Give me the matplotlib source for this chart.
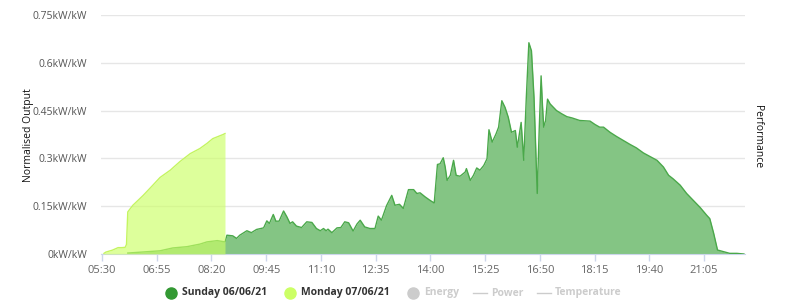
import matplotlib
matplotlib.use("Agg")
from matplotlib import pyplot as plt
from matplotlib.lines import Line2D
import numpy as np

plt.rcParams['font.family'] = ['Open Sans', 'DejaVu Sans']

# Monday 07/06/21 (today, stops at 08:41)
mon_time = ["05:33", "05:36", "05:46", "05:55", "06:01", "06:06", "06:08",
            "06:10", "06:13", "06:18", "06:34", "06:49", "07:00", "07:16",
            "07:31", "07:47", "08:02", "08:13", "08:22", "08:38", "08:41"]
mon_val = [0.002, 0.006, 0.012, 0.02, 0.02, 0.021, 0.03,
           0.132, 0.14, 0.153, 0.184, 0.216, 0.24, 0.263,
           0.29, 0.315, 0.331, 0.347, 0.362, 0.375, 0.378]

# Sunday 06/06/21
sun_time = ["06:10", "06:40", "07:00", "07:20", "07:42", "08:02", "08:13", "08:29",
            "08:41", "08:44", "08:53", "08:59", "09:04", "09:15", "09:22", "09:30",
            "09:41", "09:46", "09:50", "09:56", "10:00", "10:05", "10:12", "10:17",
            "10:22", "10:26", "10:32", "10:40", "10:48", "10:56", "11:03", "11:09",
            "11:14", "11:18", "11:21", "11:27", "11:35", "11:41", "11:47", "11:53",
            "12:00", "12:06", "12:11", "12:18", "12:26", "12:34", "12:39", "12:44",
            "12:52", "13:00", "13:05", "13:12", "13:18", "13:26", "13:34", "13:39",
            "13:44", "13:52", "13:59", "14:06", "14:11", "14:15", "14:20", "14:23",
            "14:26", "14:31", "14:36", "14:40", "14:46", "14:54", "14:56", "15:02",
            "15:07", "15:12", "15:17", "15:23", "15:28", "15:31", "15:36", "15:42",
            "15:46", "15:51", "15:56", "16:01", "16:06", "16:12", "16:15", "16:21",
            "16:25", "16:29", "16:33", "16:37", "16:41", "16:46", "16:49", "16:52",
            "16:54", "16:56", "16:59", "17:02", "17:06", "17:16", "17:24", "17:32",
            "17:40", "17:52", "18:08", "18:16", "18:23", "18:29", "18:39", "18:49",
            "19:00", "19:10", "19:20", "19:31", "19:41", "19:52", "20:02", "20:10",
            "20:17", "20:28", "20:38", "20:48", "20:59", "21:09", "21:14", "21:20",
            "21:26", "21:36", "21:45", "21:56", "22:07"]
sun_val = [0.003, 0.007, 0.01, 0.019, 0.023, 0.031, 0.038, 0.042,
           0.038, 0.059, 0.057, 0.049, 0.059, 0.073, 0.067, 0.077,
           0.082, 0.104, 0.096, 0.124, 0.103, 0.103, 0.135, 0.117,
           0.096, 0.101, 0.0875, 0.083, 0.101, 0.099, 0.080, 0.073,
           0.080, 0.073, 0.078, 0.067, 0.082, 0.083, 0.101, 0.098,
           0.072, 0.094, 0.106, 0.085, 0.080, 0.080, 0.119, 0.106,
           0.152, 0.184, 0.153, 0.156, 0.143, 0.202, 0.202, 0.19,
           0.192, 0.179, 0.169, 0.160, 0.281, 0.283, 0.302, 0.273,
           0.231, 0.247, 0.294, 0.247, 0.244, 0.257, 0.268, 0.231,
           0.247, 0.270, 0.263, 0.278, 0.299, 0.390, 0.351, 0.377,
           0.398, 0.481, 0.46, 0.429, 0.382, 0.3875, 0.335, 0.413,
           0.294, 0.49, 0.663, 0.6375, 0.49, 0.19, 0.3875, 0.559,
           0.471, 0.398, 0.419, 0.486, 0.471, 0.45, 0.44, 0.431,
           0.427, 0.419, 0.417, 0.406, 0.398, 0.398, 0.382, 0.369,
           0.356, 0.344, 0.333, 0.317, 0.306, 0.294, 0.273, 0.247,
           0.236, 0.216, 0.19, 0.169, 0.146, 0.122, 0.111, 0.065,
           0.0125, 0.007, 0.002, 0.002, 0.0]

tick_labels = ["05:30", "06:55", "08:20", "09:45", "11:10", "12:35",
               "14:00", "15:25", "16:50", "18:15", "19:40", "21:05"]
y_ticks = [0, 0.15, 0.3, 0.45, 0.6, 0.75]
y_labels = ["0kW/kW", "0.15kW/kW", "0.3kW/kW", "0.45kW/kW", "0.6kW/kW", "0.75kW/kW"]


def to_min(s):
  h, m = s.split(":")
  return int(h) * 60 + int(m)


sun_x = np.array([to_min(t) for t in sun_time])
mon_x = np.array([to_min(t) for t in mon_time])

fig = plt.figure(figsize=(8, 3.04), dpi=100)
ax = fig.add_axes([101/800, 1-254/304, 644/800, 239/304])

ax.fill_between(sun_x, sun_val, color="#84c584", lw=0, zorder=2)
ax.plot(sun_x, sun_val, color="#4aa84a", lw=1, zorder=3)
ax.fill_between(mon_x, mon_val, color="#ccff66", alpha=0.65, lw=0, zorder=4)
ax.plot(mon_x, mon_val, color="#c4f560", lw=1, zorder=5)

ax.set_xlim(328.4, 1328.7)
ax.set_ylim(0, 0.75)
ax.set_xticks([to_min(t) for t in tick_labels])
ax.set_xticklabels(tick_labels)
ax.set_yticks(y_ticks)
ax.set_yticklabels(y_labels)
ax.tick_params(axis="x", colors="#ccd6eb", labelcolor="#666666", labelsize=8,
               length=5, width=1, pad=3)
ax.tick_params(axis="y", length=0, labelcolor="#555555", labelsize=7.5, pad=10)
ax.grid(axis="y", color="#e6e6e6", lw=1)
ax.set_axisbelow(True)
for s in ["top", "right", "left"]:
  ax.spines[s].set_visible(False)
ax.spines["bottom"].set_color("#ccd6eb")

fig.text(28/800, 1-135/304, "Normalised Output", rotation=90, ha="center",
         va="center", fontsize=7.5, color="#111111")
fig.text(758/800, 1-137/304, "Performance", rotation=-90, ha="center",
         va="center", fontsize=7.5, color="#111111")

# legend: pick a font size so that "Sunday 06/06/21" is ~85px wide like the original
probe = fig.text(0, 0, "Sunday 06/06/21", fontsize=10, fontweight="bold")
fig.canvas.draw()
leg_size = 10 * 85 / probe.get_window_extent().width
probe.remove()

ly = 1 - 293/304
items = [(171, "o", "#339933", "Sunday 06/06/21", "#333333"),
         (290, "o", "#ccff66", "Monday 07/06/21", "#333333"),
         (413, "o", "#cccccc", "Energy", "#cccccc"),
         (480, "-", "#cccccc", "Power", "#cccccc"),
         (544, "-", "#cccccc", "Temperature", "#cccccc")]
for px, mk, col, lab, tcol in items:
  if mk == "o":
    fig.add_artist(Line2D([px/800], [ly], marker="o", ms=8, color=col, lw=0))
  else:
    fig.add_artist(Line2D([(px-7)/800, (px+7)/800], [ly, ly], color=col, lw=1))
  fig.text((px + 11)/800, ly, lab, ha="left", va="center", fontsize=leg_size,
           fontweight="bold", color=tcol)

fig.savefig("out.png", dpi=100)
